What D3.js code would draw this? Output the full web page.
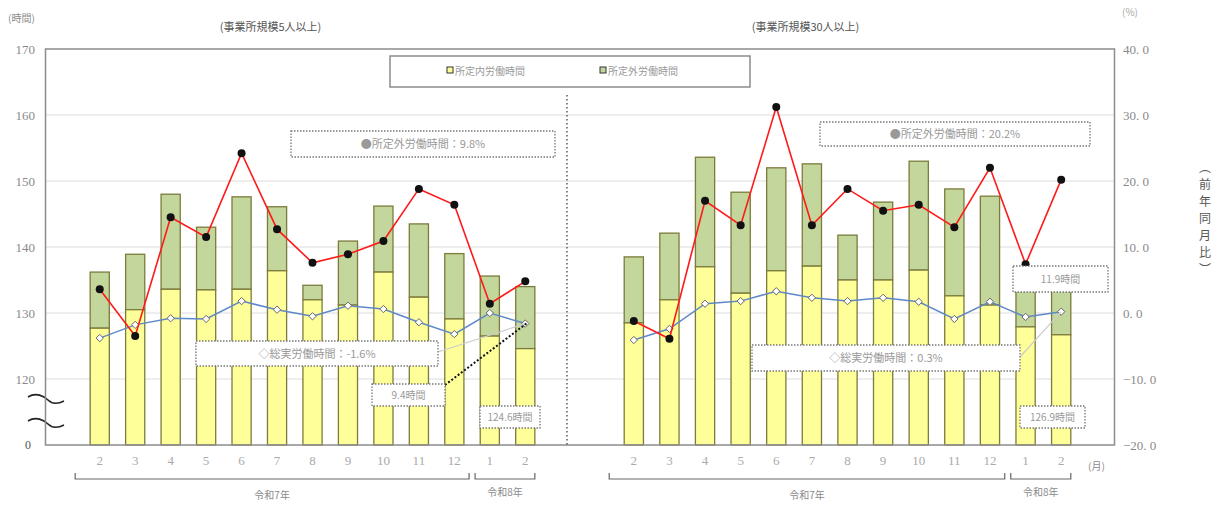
<!DOCTYPE html>
<html>
<head>
<meta charset="utf-8">
<script src="https://cdn.jsdelivr.net/npm/d3@7"></script>
<style>
body { margin: 0; background: #fff; }
text { font-family: "Noto Sans CJK JP", sans-serif; }
text.num { font-family: "Liberation Serif", "DejaVu Serif", serif; }
</style>
</head>
<body>
<svg id="chart" width="1221" height="505"></svg>
<script>
// month labels (令和7年2月 .. 令和8年2月)
const months = ['2', '3', '4', '5', '6', '7', '8', '9', '10', '11', '12', '1', '2'];

// 事業所規模5人以上 (時間)
const total5 = [136.2, 138.9, 148.0, 143.0, 147.6, 146.1, 134.2, 140.9, 146.2, 143.5, 139.0, 135.6, 134.0];
const scheduled5 = [127.7, 130.5, 133.6, 133.5, 133.6, 136.4, 132.0, 131.2, 136.2, 132.4, 129.1, 126.5, 124.6];
// 前年同月比 (%)
const overtimeRate5 = [3.6, -3.5, 14.5, 11.5, 24.2, 12.7, 7.6, 8.9, 10.9, 18.8, 16.4, 1.4, 4.8];
const totalRate5 = [-3.8, -1.8, -0.8, -0.9, 1.8, 0.5, -0.5, 1.1, 0.6, -1.4, -3.2, 0.0, -1.6];

// 事業所規模30人以上 (時間)
const total30 = [138.5, 142.1, 153.6, 148.3, 152.0, 152.6, 141.8, 146.8, 153.0, 148.8, 147.7, 135.3, 134.5];
const scheduled30 = [128.5, 132.0, 137.0, 133.0, 136.4, 137.1, 135.0, 135.0, 136.5, 132.6, 131.2, 127.9, 126.7];
const overtimeRate30 = [-1.2, -3.9, 17.0, 13.3, 31.2, 13.3, 18.8, 15.5, 16.4, 13.0, 22.0, 7.4, 20.2];
const totalRate30 = [-4.1, -2.4, 1.4, 1.8, 3.3, 2.3, 1.8, 2.3, 1.7, -0.9, 1.7, -0.6, 0.2];

const hourTicks = [120, 130, 140, 150, 160, 170];
const rateTicks = [-20, -10, 0, 10, 20, 30, 40];

const YELLOW = '#ffff99';
const GREEN = '#c3d69b';
const BAR_STROKE = '#7b7b3c';
const RED = '#ff1a1a';
const BLUE = '#5f88c8';
const TEXT = '#8a8a8a';

const svg = d3.select('#chart');

const plotTop = 49, plotBottom = 445, frameLeft = 45.5, frameRight = 1114.5;

var yHours = d3.scaleLinear().domain([110, 170]).range([plotBottom, plotTop]);
var yRate = d3.scaleLinear().domain([-20, 40]).range([plotBottom, plotTop]);

/* grid */
svg.append('g')
    .selectAll('line')
    .data(hourTicks.slice(0, -1))
    .join('line')
    .attr('x1', frameLeft).attr('x2', frameRight)
    .attr('y1', d => yHours(d)).attr('y2', d => yHours(d))
    .attr('stroke', '#dcdcdc').attr('stroke-width', 1);

/* left axis */
var leftAxis = svg.append('g')
    .attr('transform', 'translate(' + 35 + ',0)')
    .call(d3.axisLeft(yHours).tickValues(hourTicks).tickSize(0).tickPadding(0));
leftAxis.select('.domain').remove();
leftAxis.selectAll('text')
    .attr('class', 'num')
    .attr('fill', TEXT).attr('font-size', 13);

/* right axis */
var rightAxis = svg.append('g')
    .attr('transform', 'translate(' + 1123 + ',0)')
    .call(d3.axisRight(yRate).tickValues(rateTicks).tickSize(0).tickPadding(0)
        .tickFormat(d => d3.format('.1f')(d).replace('.', '. ')));
rightAxis.select('.domain').remove();
rightAxis.selectAll('text')
    .attr('class', 'num')
    .attr('fill', TEXT).attr('font-size', 13);

svg.append('text').attr('class', 'num').attr('x', 31).attr('y', plotBottom + 4)
    .attr('text-anchor', 'end').attr('fill', '#555').attr('font-size', 12)
    .text('0');

// axis break marks
[400, 424].forEach(yy => {
    svg.append('path')
        .attr('d', 'M28,' + (yy - 3) + ' C36,' + (yy - 8) + ' 44,' + (yy - 4) + ' 48,' + yy + ' S58,' + (yy + 4) + ' 64,' + (yy + 1))
        .attr('fill', 'none').attr('stroke', '#222').attr('stroke-width', 1.6);
});

svg.append('text').attr('x', 8).attr('y', 22).attr('fill', TEXT).attr('font-size', 10).text('(時間)');
svg.append('text').attr('x', 1122).attr('y', 16).attr('fill', '#aaa').attr('font-size', 10).text('(%)');
svg.append('text').attr('x', 1088).attr('y', 470).attr('fill', TEXT).attr('font-size', 10).text('(月)');

// vertical label
var vLabel = svg.append('text').attr('fill', '#555').attr('font-size', 12)
    .attr('text-anchor', 'middle');
['︵', '前', '年', '同', '月', '比', '︶'].forEach((ch, i) => {
    vLabel.append('tspan').attr('x', 1205).attr('y', 172 + i * 17).text(ch);
});

var panels = [
    { title: '(事業所規模5人以上)', range: [82, 543], total: total5, scheduled: scheduled5,
      overtimeRate: overtimeRate5, totalRate: totalRate5 },
    { title: '(事業所規模30人以上)', range: [616, 1079], total: total30, scheduled: scheduled30,
      overtimeRate: overtimeRate30, totalRate: totalRate30 }
];

function bandFor(p) {
    return d3.scaleBand().domain(d3.range(months.length)).range(p.range).paddingInner(0.46).paddingOuter(0.23);
}

panels.forEach(p => {
    var x = bandFor(p);
    var cx = i => x(i) + x.bandwidth() / 2;
    var g = svg.append('g');

    // 所定外 (green) stacked on 所定内 (yellow)
    g.selectAll('rect.over')
        .data(p.total)
        .join('rect')
        .attr('x', (d, i) => x(i)).attr('width', x.bandwidth())
        .attr('y', d => yHours(d))
        .attr('height', (d, i) => yHours(p.scheduled[i]) - yHours(d))
        .attr('fill', GREEN).attr('stroke', BAR_STROKE).attr('stroke-width', 1.3);
    g.selectAll('rect.sched')
        .data(p.scheduled)
        .join('rect')
        .attr('x', (d, i) => x(i)).attr('width', x.bandwidth())
        .attr('y', d => yHours(d))
        .attr('height', d => plotBottom - yHours(d))
        .attr('fill', YELLOW).attr('stroke', BAR_STROKE).attr('stroke-width', 1.3);

    // 総実労働時間 前年同月比
    g.append('path')
        .datum(p.totalRate)
        .attr('fill', 'none').attr('stroke', BLUE).attr('stroke-width', 1.5)
        .attr('d', d3.line().x((d, i) => cx(i)).y(d => yRate(d)));
    g.selectAll('path.diamond')
        .data(p.totalRate)
        .join('path')
        .attr('transform', (d, i) => 'translate(' + cx(i) + ',' + yRate(d) + ')')
        .attr('d', d3.symbol(d3.symbolDiamond2, 34))
        .attr('fill', '#fff').attr('stroke', '#666').attr('stroke-width', 1);

    // 所定外労働時間 前年同月比
    g.append('path')
        .datum(p.overtimeRate)
        .attr('fill', 'none').attr('stroke', RED).attr('stroke-width', 1.6)
        .attr('d', d3.line().x((d, i) => cx(i)).y(d => yRate(d)));
    g.selectAll('circle')
        .data(p.overtimeRate)
        .join('circle')
        .attr('cx', (d, i) => cx(i)).attr('cy', d => yRate(d))
        .attr('r', 4).attr('fill', '#111');

    // month labels
    g.selectAll('text.m')
        .data(months)
        .join('text')
        .attr('class', 'num')
        .attr('x', (d, i) => cx(i)).attr('y', 465)
        .attr('text-anchor', 'middle').attr('fill', '#aaa').attr('font-size', 13)
        .text(d => d);

    // year brackets
    var gap = (x(10) + x.bandwidth() + x(11)) / 2;
    var yearGroups = [
        { label: '令和7年', x0: x(0) - 15, x1: gap - 3, ly: 499 },
        { label: '令和8年', x0: gap + 3, x1: x(12) + x.bandwidth(), ly: 496 }
    ];
    yearGroups.forEach(yg => {
        g.append('path')
            .attr('d', 'M' + yg.x0 + ',473 V479 H' + yg.x1 + ' V473')
            .attr('fill', 'none').attr('stroke', '#666').attr('stroke-width', 1.2);
        g.append('text')
            .attr('x', (yg.x0 + yg.x1) / 2).attr('y', yg.ly)
            .attr('text-anchor', 'middle').attr('fill', TEXT).attr('font-size', 10)
            .text(yg.label);
    });

    svg.append('text')
        .attr('x', (p.range[0] + p.range[1]) / 2 - 42).attr('y', 31)
        .attr('text-anchor', 'middle').attr('fill', '#555').attr('font-size', 11)
        .text(p.title);
});

/* frame */
svg.append('rect')
    .attr('x', frameLeft).attr('y', plotTop)
    .attr('width', frameRight - frameLeft).attr('height', plotBottom - plotTop)
    .attr('fill', 'none').attr('stroke', '#8c8c8c').attr('stroke-width', 1.5);

// panel divider
svg.append('line')
    .attr('x1', 567).attr('x2', 567).attr('y1', 95).attr('y2', plotBottom)
    .attr('stroke', '#333').attr('stroke-width', 1.2).attr('stroke-dasharray', '1.5,2.5');

/* legend */
svg.append('rect').attr('x', 390).attr('y', 56).attr('width', 360).attr('height', 31)
    .attr('fill', '#fff').attr('stroke', '#8c8c8c').attr('stroke-width', 1.5);
[{ label: '所定内労働時間', fill: YELLOW, x: 447 }, { label: '所定外労働時間', fill: GREEN, x: 600 }].forEach(l => {
    svg.append('rect').attr('x', l.x).attr('y', 67).attr('width', 6).attr('height', 6)
        .attr('fill', l.fill).attr('stroke', '#333').attr('stroke-width', 1);
    svg.append('text').attr('x', l.x + 8).attr('y', 75).attr('fill', '#999').attr('font-size', 10).text(l.label);
});

/* annotations */
var notes = [
    { x: 291, y: 131, w: 264, h: 26, text: '●所定外労働時間：9.8%', size: 11 },
    { x: 820, y: 122, w: 270, h: 24, text: '●所定外労働時間：20.2%', size: 11 },
    { x: 196, y: 341, w: 242, h: 25, text: '◇総実労働時間：-1.6%', size: 11 },
    { x: 752, y: 345, w: 268, h: 26, text: '◇総実労働時間：0.3%', size: 11 },
    { x: 372, y: 384, w: 73, h: 22, text: '9.4時間', size: 10 },
    { x: 480, y: 406, w: 60, h: 22, text: '124.6時間', size: 10 },
    { x: 1013, y: 266, w: 95, h: 26, text: '11.9時間', size: 10 },
    { x: 1020, y: 406, w: 65, h: 22, text: '126.9時間', size: 10 }
];

function cxOf(pi, i) {
    var x = bandFor(panels[pi]);
    return x(i) + x.bandwidth() / 2;
}

// leader lines
svg.append('line').attr('x1', 438).attr('y1', 352).attr('x2', cxOf(0, 12)).attr('y2', yRate(totalRate5[12]))
    .attr('stroke', '#ccc').attr('stroke-width', 1.2);
svg.append('line').attr('x1', 1020).attr('y1', 357).attr('x2', cxOf(1, 12)).attr('y2', yRate(totalRate30[12]))
    .attr('stroke', '#ccc').attr('stroke-width', 1.2);
svg.append('line').attr('x1', 445).attr('y1', 385).attr('x2', cxOf(0, 12) + 2).attr('y2', yHours(128.5))
    .attr('stroke', '#111').attr('stroke-width', 2).attr('stroke-dasharray', '2,2');

notes.forEach(n => {
    svg.append('rect').attr('x', n.x).attr('y', n.y).attr('width', n.w).attr('height', n.h)
        .attr('fill', '#fff').attr('stroke', '#777').attr('stroke-width', 1.3).attr('stroke-dasharray', '1.5,1.5');
    svg.append('text').attr('x', n.x + n.w / 2).attr('y', n.y + n.h / 2 + 4)
        .attr('text-anchor', 'middle').attr('fill', '#999').attr('font-size', n.size).text(n.text);
});
</script>
</body>
</html>
